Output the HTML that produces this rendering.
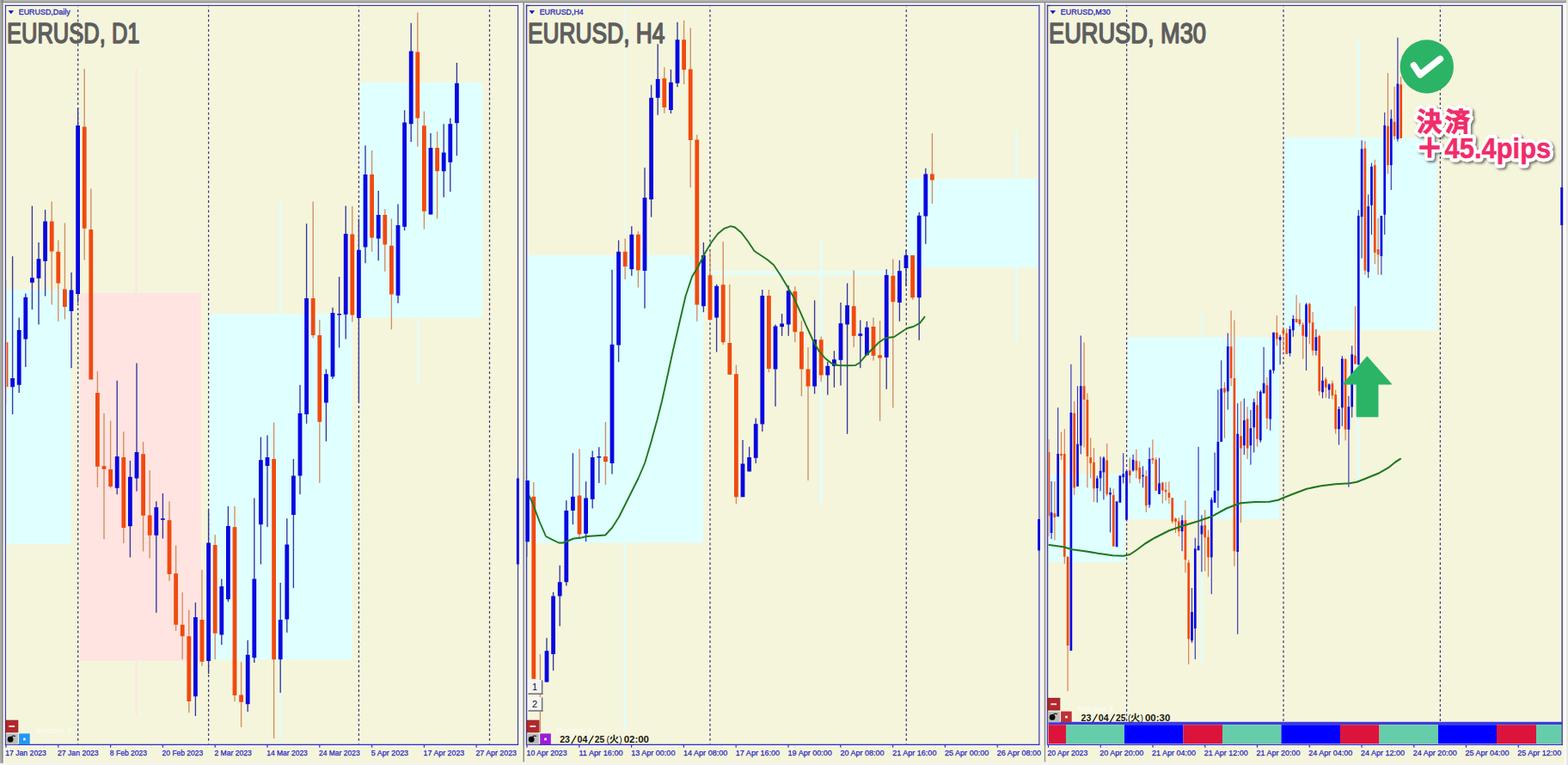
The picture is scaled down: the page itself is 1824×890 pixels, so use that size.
<!DOCTYPE html>
<html><head><meta charset="utf-8"><title>EURUSD</title>
<style>
html,body{margin:0;padding:0;background:#f5f5dc;overflow:hidden}
svg{display:block;font-family:"Liberation Sans",sans-serif}
</style></head><body>
<svg width="1824" height="890" viewBox="0 0 1824 890">
<rect x="0" y="0" width="1824" height="890" fill="#f5f5dc" />
<rect x="7.2" y="337" width="75.3" height="296.2" fill="#e0ffff" />
<rect x="93.2" y="340.8" width="140.6" height="427.7" fill="#ffe4e1" />
<rect x="157.3" y="80" width="2.5" height="260.8" fill="#fbe9df" />
<rect x="157.3" y="768.5" width="2.5" height="64" fill="#fbe9df" />
<rect x="243.8" y="365.2" width="165.7" height="402.4" fill="#e0ffff" />
<rect x="325.2" y="234.5" width="2.5" height="130.7" fill="#e0ffff" />
<rect x="325.2" y="767.6" width="2.5" height="91.9" fill="#e3fdf8" />
<rect x="419.2" y="96.2" width="142" height="273.3" fill="#e0ffff" />
<rect x="484.8" y="369.5" width="2.8" height="77.5" fill="#e6fdf6" />
<rect x="613.2" y="297" width="205" height="334.5" fill="#e0ffff" />
<rect x="725.3" y="7.2" width="2.9" height="289.8" fill="#ecfaec" />
<rect x="725.3" y="631.5" width="2.9" height="219.5" fill="#e3fdf8" />
<rect x="828" y="315" width="225.5" height="5.2" fill="#e6fdf6" />
<rect x="953.6" y="280.8" width="3" height="34.2" fill="#e3fdf8" />
<rect x="953.6" y="320.2" width="3" height="267.3" fill="#e3fdf8" />
<rect x="1055.5" y="208" width="152.1" height="103.2" fill="#e0ffff" />
<rect x="1181" y="152.5" width="3" height="55.5" fill="#e3fdf8" />
<rect x="1181" y="311.2" width="3" height="85.8" fill="#e3fdf8" />
<rect x="1219.2" y="551.2" width="88.8" height="102.5" fill="#e0ffff" />
<rect x="1311.7" y="392.2" width="176.3" height="211.8" fill="#e0ffff" />
<rect x="1396.3" y="360" width="3.5" height="32.2" fill="#ecf9ea" />
<rect x="1396.3" y="604" width="3.5" height="169" fill="#e6fbf2" />
<rect x="1494" y="160" width="177.6" height="224" fill="#e0ffff" />
<rect x="1578.4" y="45" width="3.2" height="115" fill="#e3fdf8" />
<rect x="1578.4" y="384" width="3.2" height="176" fill="#e3fdf8" />
<line x1="90.7" y1="5.5" x2="90.7" y2="865.5" stroke="#34347c" stroke-width="1.25" stroke-dasharray="2.8 2.89"/>
<line x1="242.6" y1="5.5" x2="242.6" y2="865.5" stroke="#34347c" stroke-width="1.25" stroke-dasharray="2.8 2.89"/>
<line x1="417.4" y1="5.5" x2="417.4" y2="865.5" stroke="#34347c" stroke-width="1.25" stroke-dasharray="2.8 2.89"/>
<line x1="569.5" y1="5.5" x2="569.5" y2="865.5" stroke="#34347c" stroke-width="1.25" stroke-dasharray="2.8 2.89"/>
<line x1="826" y1="5.5" x2="826" y2="865.5" stroke="#34347c" stroke-width="1.25" stroke-dasharray="2.8 2.89"/>
<line x1="1054.3" y1="5.5" x2="1054.3" y2="865.5" stroke="#34347c" stroke-width="1.25" stroke-dasharray="2.8 2.89"/>
<line x1="1310.6" y1="5.5" x2="1310.6" y2="840" stroke="#34347c" stroke-width="1.25" stroke-dasharray="2.8 2.89"/>
<line x1="1493" y1="5.5" x2="1493" y2="840" stroke="#34347c" stroke-width="1.25" stroke-dasharray="2.8 2.89"/>
<line x1="1675.4" y1="5.5" x2="1675.4" y2="840" stroke="#34347c" stroke-width="1.25" stroke-dasharray="2.8 2.89"/>
<rect x="6.325" y="325.8" width="1.35" height="143.2" fill="#cf8e62" />
<rect x="4.6" y="398.2" width="4.8" height="51.8" fill="#f04a10" />
<rect x="13.925" y="298.2" width="1.35" height="183.8" fill="#36369c" />
<rect x="12.2" y="440" width="4.8" height="10.2" fill="#0808e0" />
<rect x="21.525" y="369.5" width="1.35" height="87.5" fill="#36369c" />
<rect x="19.8" y="384" width="4.8" height="63.8" fill="#0808e0" />
<rect x="29.125" y="341.5" width="1.35" height="85.5" fill="#36369c" />
<rect x="27.4" y="345.8" width="4.8" height="48.7" fill="#0808e0" />
<rect x="36.725" y="239.5" width="1.35" height="120.7" fill="#36369c" />
<rect x="35" y="323.2" width="4.8" height="5.6" fill="#0808e0" />
<rect x="44.325" y="282" width="1.35" height="95.5" fill="#36369c" />
<rect x="42.6" y="301.2" width="4.8" height="22.6" fill="#0808e0" />
<rect x="51.925" y="244" width="1.35" height="100.5" fill="#36369c" />
<rect x="50.2" y="257.5" width="4.8" height="46.3" fill="#0808e0" />
<rect x="59.525" y="234.5" width="1.35" height="120" fill="#cf8e62" />
<rect x="57.8" y="257.5" width="4.8" height="35" fill="#f04a10" />
<rect x="67.125" y="279.5" width="1.35" height="94.3" fill="#cf8e62" />
<rect x="65.4" y="292.8" width="4.8" height="36.7" fill="#f04a10" />
<rect x="74.725" y="259.5" width="1.35" height="112" fill="#cf8e62" />
<rect x="73" y="336.5" width="4.8" height="20.5" fill="#f04a10" />
<rect x="82.325" y="317" width="1.35" height="111.2" fill="#36369c" />
<rect x="80.6" y="337.5" width="4.8" height="24.5" fill="#0808e0" />
<rect x="89.925" y="126" width="1.35" height="226" fill="#36369c" />
<rect x="88.2" y="146" width="4.8" height="196" fill="#0808e0" />
<rect x="97.525" y="80" width="1.35" height="222.5" fill="#cf8e62" />
<rect x="95.8" y="147.5" width="4.8" height="118.3" fill="#f04a10" />
<rect x="105.125" y="219.5" width="1.35" height="222" fill="#cf8e62" />
<rect x="103.4" y="267" width="4.8" height="174.5" fill="#f04a10" />
<rect x="112.725" y="432" width="1.35" height="135" fill="#cf8e62" />
<rect x="111" y="457" width="4.8" height="85.8" fill="#f04a10" />
<rect x="120.325" y="480.8" width="1.35" height="146.4" fill="#cf8e62" />
<rect x="118.6" y="542.2" width="4.8" height="3.6" fill="#f04a10" />
<rect x="127.925" y="489.5" width="1.35" height="78.3" fill="#cf8e62" />
<rect x="126.2" y="546" width="4.8" height="20" fill="#f04a10" />
<rect x="135.525" y="442.8" width="1.35" height="132.4" fill="#36369c" />
<rect x="133.8" y="531" width="4.8" height="36.8" fill="#0808e0" />
<rect x="143.125" y="502" width="1.35" height="130" fill="#cf8e62" />
<rect x="141.4" y="532" width="4.8" height="82" fill="#f04a10" />
<rect x="150.725" y="536" width="1.35" height="112.5" fill="#36369c" />
<rect x="149" y="554.8" width="4.8" height="57.4" fill="#0808e0" />
<rect x="158.325" y="422.5" width="1.35" height="149" fill="#36369c" />
<rect x="156.6" y="526" width="4.8" height="30.5" fill="#0808e0" />
<rect x="165.925" y="514" width="1.35" height="127.5" fill="#cf8e62" />
<rect x="164.2" y="528.2" width="4.8" height="71.6" fill="#f04a10" />
<rect x="173.525" y="547.2" width="1.35" height="102.3" fill="#cf8e62" />
<rect x="171.8" y="599.5" width="4.8" height="23.3" fill="#f04a10" />
<rect x="181.125" y="583.2" width="1.35" height="129.6" fill="#36369c" />
<rect x="179.4" y="590.2" width="4.8" height="32.6" fill="#0808e0" />
<rect x="188.725" y="574" width="1.35" height="52.5" fill="#36369c" />
<rect x="187" y="603.2" width="4.8" height="1.6" fill="#0808e0" />
<rect x="196.325" y="583.5" width="1.35" height="92.5" fill="#cf8e62" />
<rect x="194.6" y="605.2" width="4.8" height="62.8" fill="#f04a10" />
<rect x="203.925" y="634.5" width="1.35" height="99.5" fill="#cf8e62" />
<rect x="202.2" y="667.2" width="4.8" height="59.6" fill="#f04a10" />
<rect x="211.525" y="689.2" width="1.35" height="78" fill="#cf8e62" />
<rect x="209.8" y="726.8" width="4.8" height="13.4" fill="#f04a10" />
<rect x="219.125" y="709.8" width="1.35" height="119.4" fill="#cf8e62" />
<rect x="217.4" y="740.2" width="4.8" height="75.8" fill="#f04a10" />
<rect x="226.725" y="701" width="1.35" height="132" fill="#36369c" />
<rect x="225" y="718" width="4.8" height="92.2" fill="#0808e0" />
<rect x="234.325" y="662.8" width="1.35" height="112" fill="#cf8e62" />
<rect x="232.6" y="721" width="4.8" height="48.8" fill="#f04a10" />
<rect x="241.925" y="593.2" width="1.35" height="190.8" fill="#36369c" />
<rect x="240.2" y="631.5" width="4.8" height="137.5" fill="#0808e0" />
<rect x="249.525" y="622.2" width="1.35" height="145" fill="#cf8e62" />
<rect x="247.8" y="634" width="4.8" height="102.8" fill="#f04a10" />
<rect x="257.125" y="673.5" width="1.35" height="76.7" fill="#36369c" />
<rect x="255.4" y="682.2" width="4.8" height="56.3" fill="#0808e0" />
<rect x="264.725" y="589" width="1.35" height="111.2" fill="#36369c" />
<rect x="263" y="612" width="4.8" height="85.2" fill="#0808e0" />
<rect x="272.325" y="589" width="1.35" height="227" fill="#cf8e62" />
<rect x="270.6" y="613.2" width="4.8" height="195.8" fill="#f04a10" />
<rect x="279.925" y="770.2" width="1.35" height="75.8" fill="#cf8e62" />
<rect x="278.2" y="808.5" width="4.8" height="8.3" fill="#f04a10" />
<rect x="287.525" y="744.8" width="1.35" height="83.2" fill="#36369c" />
<rect x="285.8" y="761.8" width="4.8" height="57.4" fill="#0808e0" />
<rect x="295.125" y="579.5" width="1.35" height="191.5" fill="#36369c" />
<rect x="293.4" y="673.5" width="4.8" height="91.7" fill="#0808e0" />
<rect x="302.725" y="508.5" width="1.35" height="148" fill="#36369c" />
<rect x="301" y="535.2" width="4.8" height="75" fill="#0808e0" />
<rect x="310.325" y="506.5" width="1.35" height="106.7" fill="#36369c" />
<rect x="308.6" y="532" width="4.8" height="10" fill="#0808e0" />
<rect x="317.925" y="491.5" width="1.35" height="367.7" fill="#cf8e62" />
<rect x="316.2" y="534" width="4.8" height="233.2" fill="#f04a10" />
<rect x="325.525" y="678" width="1.35" height="128" fill="#36369c" />
<rect x="323.8" y="721" width="4.8" height="46.2" fill="#0808e0" />
<rect x="333.125" y="603.2" width="1.35" height="132.8" fill="#36369c" />
<rect x="331.4" y="633.5" width="4.8" height="87" fill="#0808e0" />
<rect x="340.725" y="534" width="1.35" height="150.2" fill="#36369c" />
<rect x="339" y="553.5" width="4.8" height="45.5" fill="#0808e0" />
<rect x="348.325" y="447.8" width="1.35" height="127.4" fill="#36369c" />
<rect x="346.6" y="480.8" width="4.8" height="72.7" fill="#0808e0" />
<rect x="355.925" y="260.2" width="1.35" height="232.6" fill="#36369c" />
<rect x="354.2" y="347" width="4.8" height="135" fill="#0808e0" />
<rect x="363.525" y="234.5" width="1.35" height="158.7" fill="#cf8e62" />
<rect x="361.8" y="347" width="4.8" height="43" fill="#f04a10" />
<rect x="371.125" y="372" width="1.35" height="190" fill="#cf8e62" />
<rect x="369.4" y="390" width="4.8" height="100.8" fill="#f04a10" />
<rect x="378.725" y="429.5" width="1.35" height="84" fill="#36369c" />
<rect x="377" y="435.2" width="4.8" height="33.3" fill="#0808e0" />
<rect x="386.325" y="357.8" width="1.35" height="83" fill="#36369c" />
<rect x="384.6" y="364" width="4.8" height="74.2" fill="#0808e0" />
<rect x="393.925" y="322" width="1.35" height="82.5" fill="#36369c" />
<rect x="392.2" y="365" width="4.8" height="1.5" fill="#0808e0" />
<rect x="401.525" y="239.5" width="1.35" height="155" fill="#36369c" />
<rect x="399.8" y="272" width="4.8" height="93.8" fill="#0808e0" />
<rect x="409.125" y="240" width="1.35" height="134.5" fill="#cf8e62" />
<rect x="407.4" y="272.5" width="4.8" height="94" fill="#f04a10" />
<rect x="416.725" y="254.5" width="1.35" height="213.5" fill="#36369c" />
<rect x="415" y="290.8" width="4.8" height="79.2" fill="#0808e0" />
<rect x="424.325" y="169.2" width="1.35" height="137" fill="#36369c" />
<rect x="422.6" y="203" width="4.8" height="84.5" fill="#0808e0" />
<rect x="431.925" y="175" width="1.35" height="117.8" fill="#cf8e62" />
<rect x="430.2" y="203" width="4.8" height="73.5" fill="#f04a10" />
<rect x="439.525" y="222" width="1.35" height="81.2" fill="#36369c" />
<rect x="437.8" y="250" width="4.8" height="27.5" fill="#0808e0" />
<rect x="447.125" y="243.2" width="1.35" height="72.6" fill="#cf8e62" />
<rect x="445.4" y="250" width="4.8" height="34.5" fill="#f04a10" />
<rect x="454.725" y="254.5" width="1.35" height="128.7" fill="#cf8e62" />
<rect x="453" y="285.8" width="4.8" height="56.7" fill="#f04a10" />
<rect x="462.325" y="237.5" width="1.35" height="115.3" fill="#36369c" />
<rect x="460.6" y="262" width="4.8" height="81.8" fill="#0808e0" />
<rect x="469.925" y="128.2" width="1.35" height="140" fill="#36369c" />
<rect x="468.2" y="142.5" width="4.8" height="121.3" fill="#0808e0" />
<rect x="477.525" y="26.8" width="1.35" height="138.2" fill="#36369c" />
<rect x="475.8" y="59.5" width="4.8" height="84.7" fill="#0808e0" />
<rect x="485.125" y="14.5" width="1.35" height="156.3" fill="#cf8e62" />
<rect x="483.4" y="60.5" width="4.8" height="77" fill="#f04a10" />
<rect x="492.725" y="129.5" width="1.35" height="137" fill="#cf8e62" />
<rect x="491" y="146.2" width="4.8" height="99.6" fill="#f04a10" />
<rect x="500.325" y="155" width="1.35" height="94.5" fill="#36369c" />
<rect x="498.6" y="172" width="4.8" height="77.5" fill="#0808e0" />
<rect x="507.925" y="153" width="1.35" height="101.5" fill="#cf8e62" />
<rect x="506.2" y="172" width="4.8" height="27.2" fill="#f04a10" />
<rect x="515.525" y="144.2" width="1.35" height="85.3" fill="#36369c" />
<rect x="513.8" y="177.5" width="4.8" height="21.7" fill="#0808e0" />
<rect x="523.125" y="137.5" width="1.35" height="85.5" fill="#36369c" />
<rect x="521.4" y="144.2" width="4.8" height="44.6" fill="#0808e0" />
<rect x="530.725" y="73" width="1.35" height="108.2" fill="#36369c" />
<rect x="529" y="96.8" width="4.8" height="46.4" fill="#0808e0" />
<rect x="612.525" y="559" width="1.35" height="88.8" fill="#36369c" />
<rect x="610.8" y="559" width="4.8" height="71.2" fill="#0808e0" />
<rect x="620.125" y="561" width="1.35" height="228.8" fill="#cf8e62" />
<rect x="618.4" y="577.8" width="4.8" height="212" fill="#f04a10" />
<rect x="627.725" y="761" width="1.35" height="91" fill="#cf8e62" />
<rect x="635.325" y="742.2" width="1.35" height="51.3" fill="#36369c" />
<rect x="633.6" y="757.2" width="4.8" height="36.3" fill="#0808e0" />
<rect x="642.925" y="689" width="1.35" height="91.2" fill="#36369c" />
<rect x="641.2" y="693.5" width="4.8" height="67.5" fill="#0808e0" />
<rect x="650.525" y="657.8" width="1.35" height="70.7" fill="#36369c" />
<rect x="648.8" y="677.2" width="4.8" height="16.3" fill="#0808e0" />
<rect x="658.125" y="582.2" width="1.35" height="99.3" fill="#36369c" />
<rect x="656.4" y="594" width="4.8" height="83.2" fill="#0808e0" />
<rect x="665.725" y="527.2" width="1.35" height="83" fill="#36369c" />
<rect x="664" y="577.8" width="4.8" height="16.2" fill="#0808e0" />
<rect x="673.325" y="522.2" width="1.35" height="103" fill="#cf8e62" />
<rect x="671.6" y="576.5" width="4.8" height="45" fill="#f04a10" />
<rect x="680.925" y="560.2" width="1.35" height="70" fill="#36369c" />
<rect x="679.2" y="579.5" width="4.8" height="41.3" fill="#0808e0" />
<rect x="688.525" y="524.5" width="1.35" height="67" fill="#36369c" />
<rect x="686.8" y="532" width="4.8" height="48.8" fill="#0808e0" />
<rect x="696.125" y="520.2" width="1.35" height="41.8" fill="#36369c" />
<rect x="694.4" y="531" width="4.8" height="1.5" fill="#0808e0" />
<rect x="703.725" y="491" width="1.35" height="73" fill="#cf8e62" />
<rect x="702" y="531" width="4.8" height="6.2" fill="#f04a10" />
<rect x="711.325" y="313.8" width="1.35" height="237.7" fill="#36369c" />
<rect x="709.6" y="400.8" width="4.8" height="138.2" fill="#0808e0" />
<rect x="718.925" y="279.5" width="1.35" height="141.7" fill="#36369c" />
<rect x="717.2" y="292.8" width="4.8" height="108.7" fill="#0808e0" />
<rect x="726.525" y="277.5" width="1.35" height="47.5" fill="#cf8e62" />
<rect x="724.8" y="292.8" width="4.8" height="17.2" fill="#f04a10" />
<rect x="734.125" y="263.2" width="1.35" height="57.6" fill="#36369c" />
<rect x="732.4" y="272.8" width="4.8" height="40.4" fill="#0808e0" />
<rect x="741.725" y="269" width="1.35" height="65.5" fill="#cf8e62" />
<rect x="740" y="272.8" width="4.8" height="41.7" fill="#f04a10" />
<rect x="749.325" y="195" width="1.35" height="163.8" fill="#36369c" />
<rect x="747.6" y="230" width="4.8" height="85" fill="#0808e0" />
<rect x="756.925" y="98.8" width="1.35" height="153.7" fill="#36369c" />
<rect x="755.2" y="113.8" width="4.8" height="118.2" fill="#0808e0" />
<rect x="764.525" y="51.2" width="1.35" height="82.6" fill="#36369c" />
<rect x="762.8" y="92" width="4.8" height="21.8" fill="#0808e0" />
<rect x="772.125" y="78.2" width="1.35" height="53.6" fill="#cf8e62" />
<rect x="770.4" y="91.2" width="4.8" height="33.8" fill="#f04a10" />
<rect x="779.725" y="80.8" width="1.35" height="51.2" fill="#36369c" />
<rect x="778" y="95.8" width="4.8" height="32.2" fill="#0808e0" />
<rect x="787.325" y="25.8" width="1.35" height="75.4" fill="#36369c" />
<rect x="785.6" y="46.2" width="4.8" height="50.6" fill="#0808e0" />
<rect x="794.925" y="23.8" width="1.35" height="74.4" fill="#cf8e62" />
<rect x="793.2" y="46.2" width="4.8" height="35" fill="#f04a10" />
<rect x="802.525" y="32.5" width="1.35" height="185.5" fill="#cf8e62" />
<rect x="800.8" y="80.5" width="4.8" height="82.5" fill="#f04a10" />
<rect x="810.125" y="156.8" width="1.35" height="217" fill="#cf8e62" />
<rect x="808.4" y="162.5" width="4.8" height="192" fill="#f04a10" />
<rect x="817.725" y="282" width="1.35" height="81.2" fill="#36369c" />
<rect x="816" y="297" width="4.8" height="59.2" fill="#0808e0" />
<rect x="825.325" y="293.2" width="1.35" height="78.8" fill="#cf8e62" />
<rect x="823.6" y="320.2" width="4.8" height="51.8" fill="#f04a10" />
<rect x="832.925" y="330.8" width="1.35" height="78.7" fill="#36369c" />
<rect x="831.2" y="332.8" width="4.8" height="36.7" fill="#0808e0" />
<rect x="840.525" y="281.2" width="1.35" height="120" fill="#cf8e62" />
<rect x="838.8" y="331.2" width="4.8" height="67" fill="#f04a10" />
<rect x="848.125" y="330.8" width="1.35" height="105" fill="#cf8e62" />
<rect x="846.4" y="399" width="4.8" height="36.8" fill="#f04a10" />
<rect x="855.725" y="424.5" width="1.35" height="162" fill="#cf8e62" />
<rect x="854" y="435.2" width="4.8" height="143" fill="#f04a10" />
<rect x="863.325" y="512" width="1.35" height="66.2" fill="#36369c" />
<rect x="861.6" y="539.5" width="4.8" height="38.7" fill="#0808e0" />
<rect x="870.925" y="519.8" width="1.35" height="28.7" fill="#36369c" />
<rect x="869.2" y="532" width="4.8" height="16.5" fill="#0808e0" />
<rect x="878.525" y="486.5" width="1.35" height="52.5" fill="#36369c" />
<rect x="876.8" y="493.2" width="4.8" height="39.6" fill="#0808e0" />
<rect x="886.125" y="337" width="1.35" height="165" fill="#36369c" />
<rect x="884.4" y="344" width="4.8" height="149.5" fill="#0808e0" />
<rect x="893.725" y="337" width="1.35" height="96.2" fill="#cf8e62" />
<rect x="892" y="344" width="4.8" height="85" fill="#f04a10" />
<rect x="901.325" y="377.5" width="1.35" height="95.3" fill="#36369c" />
<rect x="899.6" y="379.5" width="4.8" height="50" fill="#0808e0" />
<rect x="908.925" y="365" width="1.35" height="25.8" fill="#36369c" />
<rect x="907.2" y="376.5" width="4.8" height="3.7" fill="#0808e0" />
<rect x="916.525" y="332" width="1.35" height="58.8" fill="#36369c" />
<rect x="914.8" y="338.2" width="4.8" height="39.3" fill="#0808e0" />
<rect x="924.125" y="333.2" width="1.35" height="65" fill="#cf8e62" />
<rect x="922.4" y="339" width="4.8" height="47.2" fill="#f04a10" />
<rect x="931.725" y="373.2" width="1.35" height="87.8" fill="#cf8e62" />
<rect x="930" y="385.8" width="4.8" height="43.7" fill="#f04a10" />
<rect x="939.325" y="404" width="1.35" height="155" fill="#cf8e62" />
<rect x="937.6" y="429.5" width="4.8" height="20" fill="#f04a10" />
<rect x="946.925" y="349.5" width="1.35" height="108.7" fill="#36369c" />
<rect x="945.2" y="395" width="4.8" height="54.5" fill="#0808e0" />
<rect x="954.525" y="391.5" width="1.35" height="52.5" fill="#cf8e62" />
<rect x="952.8" y="395.2" width="4.8" height="41.3" fill="#f04a10" />
<rect x="962.125" y="420.8" width="1.35" height="38.7" fill="#36369c" />
<rect x="960.4" y="425.8" width="4.8" height="10.7" fill="#0808e0" />
<rect x="969.725" y="408.2" width="1.35" height="42.6" fill="#36369c" />
<rect x="968" y="418.2" width="4.8" height="7.6" fill="#0808e0" />
<rect x="977.325" y="352" width="1.35" height="96.5" fill="#36369c" />
<rect x="975.6" y="376.2" width="4.8" height="42.6" fill="#0808e0" />
<rect x="984.925" y="329.5" width="1.35" height="175.3" fill="#36369c" />
<rect x="983.2" y="355.2" width="4.8" height="22.3" fill="#0808e0" />
<rect x="992.525" y="314.5" width="1.35" height="89.5" fill="#cf8e62" />
<rect x="990.8" y="356.2" width="4.8" height="34.6" fill="#f04a10" />
<rect x="1000.12" y="372.5" width="1.35" height="55.7" fill="#36369c" />
<rect x="998.4" y="388.2" width="4.8" height="2.6" fill="#0808e0" />
<rect x="1007.73" y="373.8" width="1.35" height="39.4" fill="#36369c" />
<rect x="1006" y="380.8" width="4.8" height="32.4" fill="#0808e0" />
<rect x="1015.33" y="369.5" width="1.35" height="50" fill="#cf8e62" />
<rect x="1013.6" y="380" width="4.8" height="33.8" fill="#f04a10" />
<rect x="1022.93" y="373.2" width="1.35" height="116.6" fill="#cf8e62" />
<rect x="1021.2" y="413.2" width="4.8" height="3.3" fill="#f04a10" />
<rect x="1030.53" y="313.2" width="1.35" height="139.6" fill="#36369c" />
<rect x="1028.8" y="320" width="4.8" height="95.8" fill="#0808e0" />
<rect x="1038.12" y="301.5" width="1.35" height="173" fill="#cf8e62" />
<rect x="1036.4" y="320.8" width="4.8" height="30.4" fill="#f04a10" />
<rect x="1045.73" y="302.8" width="1.35" height="71" fill="#36369c" />
<rect x="1044" y="315.2" width="4.8" height="36.8" fill="#0808e0" />
<rect x="1053.33" y="290.8" width="1.35" height="42.4" fill="#36369c" />
<rect x="1051.6" y="297" width="4.8" height="15" fill="#0808e0" />
<rect x="1060.92" y="297" width="1.35" height="51.8" fill="#cf8e62" />
<rect x="1059.2" y="297" width="4.8" height="49.2" fill="#f04a10" />
<rect x="1068.53" y="247" width="1.35" height="148.8" fill="#36369c" />
<rect x="1066.8" y="250.8" width="4.8" height="95.4" fill="#0808e0" />
<rect x="1076.12" y="195.8" width="1.35" height="88" fill="#36369c" />
<rect x="1074.4" y="202.5" width="4.8" height="49" fill="#0808e0" />
<rect x="1083.73" y="155" width="1.35" height="82" fill="#cf8e62" />
<rect x="1082" y="202.5" width="4.8" height="7" fill="#f04a10" />
<polyline fill="none" stroke="#1f771f" stroke-width="1.9" stroke-linejoin="round" points="613.7,572.8 620,586.5 627.5,606.5 635,624 642.5,627.8 650,631.5 655,631.5 660,629.5 667.5,626.5 675,625.8 682.5,624 690,623.5 697.5,623 704.2,622.5 712,614 720,601.5 727.5,586.5 735,571.5 742.5,556.5 750,539 757.5,514 765,486.5 770,466.5 775,444 782.5,409.5 790,377 797.5,344.5 805,322 812.5,309.5 820,294.5 827.5,282 835,272 842.5,265.8 850,263.2 855,264.5 862.5,270.8 870,280.8 877.5,292 885,297 892.5,302 900,308.2 907.5,319.5 915,332 922.5,344.5 930,360.8 937.5,378.2 945,394.5 952.5,408.2 960,417 967.5,422.8 975,425 985,425.2 995,425 1000,422 1007.5,413.2 1015,405.8 1022.5,398.2 1030,393.2 1040,392 1047.5,387 1055,382 1062.5,380 1070,375.8 1076,368.2"/>
<rect x="1219.42" y="511" width="1.15" height="113" fill="#dc7c4c" />
<rect x="1218.65" y="526" width="2.7" height="74" fill="#f04a10" />
<rect x="1222.52" y="560" width="1.15" height="67" fill="#3232b4" />
<rect x="1221.75" y="596.3" width="2.7" height="23.7" fill="#0808e0" />
<rect x="1226.32" y="560" width="1.15" height="68.5" fill="#dc7c4c" />
<rect x="1225.55" y="597.4" width="2.7" height="4.4" fill="#f04a10" />
<rect x="1230.12" y="474.2" width="1.15" height="126.8" fill="#3232b4" />
<rect x="1229.35" y="528" width="2.7" height="73" fill="#0808e0" />
<rect x="1233.92" y="502.4" width="1.15" height="32.6" fill="#dc7c4c" />
<rect x="1233.15" y="528" width="2.7" height="2" fill="#f04a10" />
<rect x="1237.72" y="499" width="1.15" height="156.8" fill="#dc7c4c" />
<rect x="1236.95" y="528" width="2.7" height="119.6" fill="#f04a10" />
<rect x="1241.52" y="647.6" width="1.15" height="156.6" fill="#dc7c4c" />
<rect x="1240.75" y="647.6" width="2.7" height="103.4" fill="#f04a10" />
<rect x="1245.32" y="423.8" width="1.15" height="333.2" fill="#3232b4" />
<rect x="1244.55" y="480" width="2.7" height="277" fill="#0808e0" />
<rect x="1249.12" y="466.7" width="1.15" height="109.3" fill="#dc7c4c" />
<rect x="1248.35" y="480.8" width="2.7" height="86.6" fill="#f04a10" />
<rect x="1252.92" y="449.2" width="1.15" height="116.8" fill="#3232b4" />
<rect x="1252.15" y="516.7" width="2.7" height="49.3" fill="#0808e0" />
<rect x="1256.72" y="390.5" width="1.15" height="137.9" fill="#3232b4" />
<rect x="1255.95" y="449.2" width="2.7" height="69.2" fill="#0808e0" />
<rect x="1260.52" y="398.3" width="1.15" height="122.1" fill="#dc7c4c" />
<rect x="1259.75" y="449.2" width="2.7" height="15.8" fill="#f04a10" />
<rect x="1264.32" y="457.5" width="1.15" height="109.9" fill="#dc7c4c" />
<rect x="1263.55" y="465" width="2.7" height="66" fill="#f04a10" />
<rect x="1268.12" y="509.3" width="1.15" height="47.1" fill="#dc7c4c" />
<rect x="1267.35" y="532.2" width="2.7" height="6.6" fill="#f04a10" />
<rect x="1271.92" y="521" width="1.15" height="63" fill="#dc7c4c" />
<rect x="1271.15" y="537.8" width="2.7" height="30.6" fill="#f04a10" />
<rect x="1275.72" y="553.4" width="1.15" height="31.2" fill="#3232b4" />
<rect x="1274.95" y="556.6" width="2.7" height="11.4" fill="#0808e0" />
<rect x="1279.52" y="531.3" width="1.15" height="40.1" fill="#3232b4" />
<rect x="1278.75" y="547.8" width="2.7" height="8.5" fill="#0808e0" />
<rect x="1283.32" y="531" width="1.15" height="50.4" fill="#3232b4" />
<rect x="1282.55" y="532.6" width="2.7" height="16.8" fill="#0808e0" />
<rect x="1287.12" y="516" width="1.15" height="61.4" fill="#dc7c4c" />
<rect x="1286.35" y="535.6" width="2.7" height="39.3" fill="#f04a10" />
<rect x="1290.92" y="567.4" width="1.15" height="52.1" fill="#3232b4" />
<rect x="1290.15" y="573.1" width="2.7" height="2.3" fill="#0808e0" />
<rect x="1294.72" y="568.7" width="1.15" height="67" fill="#dc7c4c" />
<rect x="1293.95" y="576" width="2.7" height="59.7" fill="#f04a10" />
<rect x="1298.52" y="583.4" width="1.15" height="52.8" fill="#3232b4" />
<rect x="1297.75" y="583.4" width="2.7" height="52.8" fill="#0808e0" />
<rect x="1302.32" y="553.4" width="1.15" height="31.3" fill="#3232b4" />
<rect x="1301.55" y="553.4" width="2.7" height="31.3" fill="#0808e0" />
<rect x="1306.12" y="527.2" width="1.15" height="35.2" fill="#3232b4" />
<rect x="1305.35" y="551.3" width="2.7" height="3.9" fill="#0808e0" />
<rect x="1309.92" y="548" width="1.15" height="58.5" fill="#3232b4" />
<rect x="1309.15" y="548.1" width="2.7" height="56.6" fill="#0808e0" />
<rect x="1313.72" y="532.4" width="1.15" height="30" fill="#dc7c4c" />
<rect x="1312.95" y="547.4" width="2.7" height="5.7" fill="#f04a10" />
<rect x="1317.52" y="528.8" width="1.15" height="19.9" fill="#3232b4" />
<rect x="1316.75" y="534.9" width="2.7" height="12.5" fill="#0808e0" />
<rect x="1321.32" y="522.6" width="1.15" height="33.8" fill="#dc7c4c" />
<rect x="1320.55" y="536.1" width="2.7" height="11.3" fill="#f04a10" />
<rect x="1325.12" y="536.5" width="1.15" height="25.8" fill="#dc7c4c" />
<rect x="1324.35" y="544" width="2.7" height="13.3" fill="#f04a10" />
<rect x="1328.92" y="542.3" width="1.15" height="25" fill="#3232b4" />
<rect x="1328.15" y="552.7" width="2.7" height="1.6" fill="#0808e0" />
<rect x="1332.72" y="547.3" width="1.15" height="48.7" fill="#dc7c4c" />
<rect x="1331.95" y="554" width="2.7" height="34.2" fill="#f04a10" />
<rect x="1336.52" y="520.7" width="1.15" height="70" fill="#3232b4" />
<rect x="1335.75" y="534" width="2.7" height="53.3" fill="#0808e0" />
<rect x="1340.32" y="511.5" width="1.15" height="28.3" fill="#dc7c4c" />
<rect x="1339.55" y="533.2" width="2.7" height="2.1" fill="#f04a10" />
<rect x="1344.12" y="532.3" width="1.15" height="39.2" fill="#dc7c4c" />
<rect x="1343.35" y="534.8" width="2.7" height="35.9" fill="#f04a10" />
<rect x="1347.92" y="532.7" width="1.15" height="42.1" fill="#3232b4" />
<rect x="1347.15" y="562.3" width="2.7" height="12.5" fill="#0808e0" />
<rect x="1351.72" y="560.7" width="1.15" height="25" fill="#dc7c4c" />
<rect x="1350.95" y="561.5" width="2.7" height="9.2" fill="#f04a10" />
<rect x="1355.52" y="560.7" width="1.15" height="21.6" fill="#dc7c4c" />
<rect x="1354.75" y="569.8" width="2.7" height="2.5" fill="#f04a10" />
<rect x="1359.32" y="560.3" width="1.15" height="25.7" fill="#dc7c4c" />
<rect x="1358.55" y="573.2" width="2.7" height="5.8" fill="#f04a10" />
<rect x="1363.12" y="579" width="1.15" height="30" fill="#dc7c4c" />
<rect x="1362.35" y="579.3" width="2.7" height="27.2" fill="#f04a10" />
<rect x="1366.92" y="602.3" width="1.15" height="17.5" fill="#dc7c4c" />
<rect x="1366.15" y="603.2" width="2.7" height="3.8" fill="#f04a10" />
<rect x="1370.72" y="602.3" width="1.15" height="21.7" fill="#dc7c4c" />
<rect x="1369.95" y="606.5" width="2.7" height="11.7" fill="#f04a10" />
<rect x="1374.52" y="599.3" width="1.15" height="41.9" fill="#3232b4" />
<rect x="1373.75" y="605.3" width="2.7" height="12.9" fill="#0808e0" />
<rect x="1378.32" y="582.3" width="1.15" height="83.9" fill="#dc7c4c" />
<rect x="1377.55" y="605.3" width="2.7" height="45.9" fill="#f04a10" />
<rect x="1382.12" y="651.2" width="1.15" height="121.8" fill="#dc7c4c" />
<rect x="1381.35" y="654.5" width="2.7" height="88.8" fill="#f04a10" />
<rect x="1385.92" y="684" width="1.15" height="63.8" fill="#3232b4" />
<rect x="1385.15" y="712" width="2.7" height="33.3" fill="#0808e0" />
<rect x="1389.72" y="625.7" width="1.15" height="141.3" fill="#3232b4" />
<rect x="1388.95" y="638.3" width="2.7" height="92.9" fill="#0808e0" />
<rect x="1393.52" y="519.8" width="1.15" height="120.5" fill="#3232b4" />
<rect x="1392.75" y="635" width="2.7" height="5.3" fill="#0808e0" />
<rect x="1397.32" y="599.3" width="1.15" height="66" fill="#3232b4" />
<rect x="1396.55" y="611.5" width="2.7" height="10" fill="#0808e0" />
<rect x="1401.12" y="593.2" width="1.15" height="71.3" fill="#dc7c4c" />
<rect x="1400.35" y="611" width="2.7" height="14.3" fill="#f04a10" />
<rect x="1404.92" y="616.5" width="1.15" height="54.7" fill="#dc7c4c" />
<rect x="1404.15" y="624.8" width="2.7" height="23.5" fill="#f04a10" />
<rect x="1408.72" y="578.7" width="1.15" height="112.5" fill="#3232b4" />
<rect x="1407.95" y="581.5" width="2.7" height="66.8" fill="#0808e0" />
<rect x="1412.52" y="526.5" width="1.15" height="58.3" fill="#3232b4" />
<rect x="1411.75" y="571" width="2.7" height="13.8" fill="#0808e0" />
<rect x="1416.32" y="453.3" width="1.15" height="137.4" fill="#3232b4" />
<rect x="1415.55" y="514" width="2.7" height="56.7" fill="#0808e0" />
<rect x="1420.12" y="419.2" width="1.15" height="94.8" fill="#3232b4" />
<rect x="1419.35" y="452" width="2.7" height="62" fill="#0808e0" />
<rect x="1423.92" y="444.7" width="1.15" height="65.1" fill="#dc7c4c" />
<rect x="1423.15" y="451.3" width="2.7" height="5.4" fill="#f04a10" />
<rect x="1427.72" y="387.5" width="1.15" height="89.2" fill="#3232b4" />
<rect x="1426.95" y="403" width="2.7" height="52.3" fill="#0808e0" />
<rect x="1431.52" y="361.3" width="1.15" height="87.9" fill="#dc7c4c" />
<rect x="1430.75" y="403.3" width="2.7" height="36.7" fill="#f04a10" />
<rect x="1435.32" y="372.5" width="1.15" height="286.2" fill="#dc7c4c" />
<rect x="1434.55" y="440" width="2.7" height="201.2" fill="#f04a10" />
<rect x="1439.12" y="469.2" width="1.15" height="268.6" fill="#3232b4" />
<rect x="1438.35" y="504.8" width="2.7" height="137.2" fill="#0808e0" />
<rect x="1442.92" y="466.7" width="1.15" height="141.5" fill="#dc7c4c" />
<rect x="1442.15" y="507.3" width="2.7" height="14.2" fill="#f04a10" />
<rect x="1446.72" y="463.7" width="1.15" height="65.3" fill="#3232b4" />
<rect x="1445.95" y="489" width="2.7" height="29.2" fill="#0808e0" />
<rect x="1450.52" y="473.3" width="1.15" height="60.7" fill="#dc7c4c" />
<rect x="1449.75" y="487.3" width="2.7" height="34.2" fill="#f04a10" />
<rect x="1454.32" y="477" width="1.15" height="63.7" fill="#3232b4" />
<rect x="1453.55" y="498.2" width="2.7" height="20" fill="#0808e0" />
<rect x="1458.12" y="463.7" width="1.15" height="62.8" fill="#3232b4" />
<rect x="1457.35" y="468" width="2.7" height="29.3" fill="#0808e0" />
<rect x="1461.92" y="455" width="1.15" height="64.8" fill="#dc7c4c" />
<rect x="1461.15" y="471.3" width="2.7" height="39.4" fill="#f04a10" />
<rect x="1465.72" y="453.8" width="1.15" height="61" fill="#3232b4" />
<rect x="1464.95" y="455.8" width="2.7" height="56.5" fill="#0808e0" />
<rect x="1469.52" y="403.8" width="1.15" height="53.7" fill="#3232b4" />
<rect x="1468.75" y="445.8" width="2.7" height="11.7" fill="#0808e0" />
<rect x="1473.32" y="439.2" width="1.15" height="60" fill="#dc7c4c" />
<rect x="1472.55" y="448.2" width="2.7" height="38.5" fill="#f04a10" />
<rect x="1477.12" y="429.7" width="1.15" height="71.1" fill="#3232b4" />
<rect x="1476.35" y="430.5" width="2.7" height="57" fill="#0808e0" />
<rect x="1480.92" y="386.7" width="1.15" height="47.8" fill="#3232b4" />
<rect x="1480.15" y="386.8" width="2.7" height="44.2" fill="#0808e0" />
<rect x="1484.72" y="367" width="1.15" height="35" fill="#dc7c4c" />
<rect x="1483.95" y="387" width="2.7" height="7.5" fill="#f04a10" />
<rect x="1488.52" y="389.6" width="1.15" height="34.6" fill="#3232b4" />
<rect x="1487.75" y="392" width="2.7" height="3.7" fill="#0808e0" />
<rect x="1492.32" y="381" width="1.15" height="27" fill="#dc7c4c" />
<rect x="1491.55" y="383.6" width="2.7" height="4.4" fill="#f04a10" />
<rect x="1496.12" y="382" width="1.15" height="29.8" fill="#dc7c4c" />
<rect x="1495.35" y="387.6" width="2.7" height="24.2" fill="#f04a10" />
<rect x="1499.92" y="379.2" width="1.15" height="35.4" fill="#3232b4" />
<rect x="1499.15" y="383" width="2.7" height="28" fill="#0808e0" />
<rect x="1503.72" y="366.7" width="1.15" height="25.1" fill="#3232b4" />
<rect x="1502.95" y="371" width="2.7" height="13.3" fill="#0808e0" />
<rect x="1507.52" y="343.2" width="1.15" height="31.9" fill="#dc7c4c" />
<rect x="1506.75" y="371" width="2.7" height="4.1" fill="#f04a10" />
<rect x="1511.32" y="352.4" width="1.15" height="27.1" fill="#dc7c4c" />
<rect x="1510.55" y="371.5" width="2.7" height="5.5" fill="#f04a10" />
<rect x="1515.12" y="375.2" width="1.15" height="42.5" fill="#dc7c4c" />
<rect x="1514.35" y="377.7" width="2.7" height="13" fill="#f04a10" />
<rect x="1518.92" y="352.3" width="1.15" height="78.7" fill="#3232b4" />
<rect x="1518.15" y="354.3" width="2.7" height="37.5" fill="#0808e0" />
<rect x="1522.72" y="352.3" width="1.15" height="47.9" fill="#dc7c4c" />
<rect x="1521.95" y="353.5" width="2.7" height="22.2" fill="#f04a10" />
<rect x="1526.52" y="363" width="1.15" height="50.5" fill="#dc7c4c" />
<rect x="1525.75" y="375.2" width="2.7" height="32.5" fill="#f04a10" />
<rect x="1530.32" y="383" width="1.15" height="30.5" fill="#3232b4" />
<rect x="1529.55" y="392.3" width="2.7" height="15.7" fill="#0808e0" />
<rect x="1534.12" y="389.3" width="1.15" height="70.9" fill="#dc7c4c" />
<rect x="1533.35" y="391" width="2.7" height="64.2" fill="#f04a10" />
<rect x="1537.92" y="426.5" width="1.15" height="37" fill="#3232b4" />
<rect x="1537.15" y="442.7" width="2.7" height="13.6" fill="#0808e0" />
<rect x="1541.72" y="439" width="1.15" height="24" fill="#dc7c4c" />
<rect x="1540.95" y="441.3" width="2.7" height="9.4" fill="#f04a10" />
<rect x="1545.52" y="446" width="1.15" height="18" fill="#3232b4" />
<rect x="1544.75" y="447.3" width="2.7" height="6.2" fill="#0808e0" />
<rect x="1549.32" y="442.7" width="1.15" height="21.6" fill="#dc7c4c" />
<rect x="1548.55" y="446" width="2.7" height="14.2" fill="#f04a10" />
<rect x="1553.12" y="453.5" width="1.15" height="51.2" fill="#dc7c4c" />
<rect x="1552.35" y="459" width="2.7" height="40.2" fill="#f04a10" />
<rect x="1556.92" y="473" width="1.15" height="44.5" fill="#3232b4" />
<rect x="1556.15" y="476" width="2.7" height="23.2" fill="#0808e0" />
<rect x="1560.72" y="414" width="1.15" height="81.8" fill="#3232b4" />
<rect x="1559.95" y="417.3" width="2.7" height="57" fill="#0808e0" />
<rect x="1564.52" y="417.3" width="1.15" height="95.2" fill="#dc7c4c" />
<rect x="1563.75" y="417.7" width="2.7" height="82" fill="#f04a10" />
<rect x="1568.32" y="460.7" width="1.15" height="106" fill="#3232b4" />
<rect x="1567.55" y="473.2" width="2.7" height="26.5" fill="#0808e0" />
<rect x="1572.12" y="402.2" width="1.15" height="83.6" fill="#3232b4" />
<rect x="1571.35" y="412.3" width="2.7" height="61.1" fill="#0808e0" />
<rect x="1575.92" y="356.3" width="1.15" height="67.2" fill="#dc7c4c" />
<rect x="1575.15" y="413.5" width="2.7" height="10" fill="#f04a10" />
<rect x="1579.72" y="244.3" width="1.15" height="180" fill="#3232b4" />
<rect x="1578.95" y="251" width="2.7" height="173.3" fill="#0808e0" />
<rect x="1583.52" y="163.3" width="1.15" height="137.2" fill="#3232b4" />
<rect x="1582.75" y="173.3" width="2.7" height="78.9" fill="#0808e0" />
<rect x="1587.32" y="164.2" width="1.15" height="155.5" fill="#dc7c4c" />
<rect x="1586.55" y="172.5" width="2.7" height="142.2" fill="#f04a10" />
<rect x="1591.12" y="226.3" width="1.15" height="97" fill="#3232b4" />
<rect x="1590.35" y="240" width="2.7" height="76.3" fill="#0808e0" />
<rect x="1594.92" y="189.7" width="1.15" height="83.3" fill="#3232b4" />
<rect x="1594.15" y="193.8" width="2.7" height="45" fill="#0808e0" />
<rect x="1598.72" y="185.8" width="1.15" height="121.4" fill="#dc7c4c" />
<rect x="1597.95" y="192" width="2.7" height="101.8" fill="#f04a10" />
<rect x="1602.52" y="253.8" width="1.15" height="65.9" fill="#dc7c4c" />
<rect x="1601.75" y="290" width="2.7" height="6.3" fill="#f04a10" />
<rect x="1606.32" y="251" width="1.15" height="68.7" fill="#3232b4" />
<rect x="1605.55" y="251" width="2.7" height="47" fill="#0808e0" />
<rect x="1610.12" y="130.8" width="1.15" height="142.2" fill="#3232b4" />
<rect x="1609.35" y="145.8" width="2.7" height="103.9" fill="#0808e0" />
<rect x="1613.92" y="85" width="1.15" height="117.2" fill="#dc7c4c" />
<rect x="1613.15" y="146.7" width="2.7" height="45.5" fill="#f04a10" />
<rect x="1617.72" y="127.5" width="1.15" height="93.5" fill="#3232b4" />
<rect x="1616.95" y="138.3" width="2.7" height="53.9" fill="#0808e0" />
<rect x="1621.52" y="100.8" width="1.15" height="61.7" fill="#dc7c4c" />
<rect x="1620.75" y="141.7" width="2.7" height="16.6" fill="#f04a10" />
<rect x="1625.32" y="43.7" width="1.15" height="121" fill="#3232b4" />
<rect x="1624.55" y="97.5" width="2.7" height="64.2" fill="#0808e0" />
<rect x="1629.12" y="89.2" width="1.15" height="71.6" fill="#dc7c4c" />
<rect x="1628.35" y="98.3" width="2.7" height="62.5" fill="#f04a10" />
<polyline fill="none" stroke="#1f771f" stroke-width="2.1" stroke-linejoin="round" points="1219,633.7 1237,636.2 1247,639.2 1262,641.2 1277,643.7 1294.5,646.2 1307,646.7 1314.5,645 1322,640 1332,632.5 1343.3,625.7 1360,617.3 1376.7,611.5 1393.3,606.5 1410,600.7 1426.7,591.5 1435,588.2 1443.3,585.2 1460,584 1476.7,583.7 1486.7,581.7 1503.3,575 1520,568.7 1536.7,565.3 1553.3,563.3 1570,562.2 1578.3,560.8 1586.7,557.5 1603.3,550.8 1615,544.2 1623.3,537.5 1629.7,533.3"/>
<rect x="1219.2" y="843.2" width="20.8" height="22" fill="#dc143c" />
<rect x="1240" y="843.2" width="68" height="22" fill="#66cdaa" />
<rect x="1308" y="843.2" width="68.4" height="22" fill="#0000ff" />
<rect x="1376.4" y="843.2" width="45.6" height="22" fill="#dc143c" />
<rect x="1422" y="843.2" width="68.5" height="22" fill="#66cdaa" />
<rect x="1490.5" y="843.2" width="68.5" height="22" fill="#0000ff" />
<rect x="1559" y="843.2" width="45.5" height="22" fill="#dc143c" />
<rect x="1604.5" y="843.2" width="68.5" height="22" fill="#66cdaa" />
<rect x="1673" y="843.2" width="68" height="22" fill="#0000ff" />
<rect x="1741" y="843.2" width="46" height="22" fill="#dc143c" />
<rect x="1787" y="843.2" width="29.4" height="22" fill="#66cdaa" />
<rect x="1218.5" y="839.8" width="599" height="3.2" fill="#3c3ce0" />
<rect x="0" y="0" width="1824" height="1.6" fill="#b4b4b4" />
<rect x="0" y="1.6" width="1824" height="2" fill="#8a8a8a" />
<rect x="0" y="3.6" width="1824" height="2.2" fill="#fbfbfb" />
<rect x="0" y="0" width="1.6" height="890" fill="#a8a8a8" />
<rect x="1.6" y="0" width="2.2" height="890" fill="#888888" />
<rect x="3.8" y="3.6" width="2" height="890" fill="#fbfbfb" />
<rect x="0" y="887.8" width="1824" height="2.2" fill="#f4f4f4" />
<rect x="1819.5" y="3.6" width="2.5" height="890" fill="#fbfbf3" />
<rect x="1822" y="0" width="2" height="890" fill="#e6e6e6" />
<rect x="5.8" y="5.8" width="597.5" height="1.4" fill="#40408c" />
<rect x="5.8" y="5.8" width="1.4" height="860.5" fill="#4444a6" />
<rect x="601.9" y="5.8" width="1.5" height="860.5" fill="#4444a6" />
<rect x="5.8" y="865.7" width="597.6" height="1.3" fill="#2e2ed8" />
<rect x="611.8" y="5.8" width="597.8" height="1.4" fill="#40408c" />
<rect x="611.8" y="5.8" width="1.4" height="860.5" fill="#4444a6" />
<rect x="1208.2" y="5.8" width="1.5" height="860.5" fill="#4444a6" />
<rect x="611.8" y="865.7" width="597.9" height="1.3" fill="#2e2ed8" />
<rect x="1217.8" y="5.8" width="600" height="1.4" fill="#40408c" />
<rect x="1217.8" y="5.8" width="1.4" height="860.5" fill="#4444a6" />
<rect x="1816.4" y="5.8" width="1.5" height="860.5" fill="#4444a6" />
<rect x="1217.8" y="865.7" width="600.1" height="1.3" fill="#2e2ed8" />
<rect x="7.2" y="7.2" width="594.7" height="0.9" fill="#fdfdf4" opacity="0.9"/>
<rect x="7.2" y="7.2" width="0.8" height="858.3" fill="#fdfdf4" opacity="0.7"/>
<rect x="613.2" y="7.2" width="595" height="0.9" fill="#fdfdf4" opacity="0.9"/>
<rect x="613.2" y="7.2" width="0.8" height="858.3" fill="#fdfdf4" opacity="0.7"/>
<rect x="1219.2" y="7.2" width="597.2" height="0.9" fill="#fdfdf4" opacity="0.9"/>
<rect x="1219.2" y="7.2" width="0.8" height="858.3" fill="#fdfdf4" opacity="0.7"/>
<rect x="603.4" y="3.6" width="8.4" height="884" fill="#f7f6f0" />
<rect x="608.4" y="2" width="1.6" height="884.5" fill="#8c8c8c" />
<rect x="1209.7" y="3.6" width="8.4" height="884" fill="#f7f6f0" />
<rect x="1214.7" y="2" width="1.6" height="884.5" fill="#8c8c8c" />
<rect x="611.8" y="5.8" width="1.4" height="860.5" fill="#4444a6" />
<rect x="1217.8" y="5.8" width="1.4" height="860.5" fill="#4444a6" />
<rect x="611.8" y="5.8" width="4" height="1.4" fill="#40408c" />
<rect x="1217.8" y="5.8" width="4" height="1.4" fill="#40408c" />
<rect x="603.4" y="867.1" width="4.8" height="21" fill="#f5f5dc" />
<rect x="610.2" y="867.1" width="1.7" height="21" fill="#f5f5dc" />
<rect x="1209.7" y="867.1" width="4.8" height="21" fill="#f5f5dc" />
<rect x="1216.5" y="867.1" width="1.7" height="21" fill="#f5f5dc" />
<rect x="600.9" y="556.5" width="2.9" height="100" fill="#0808e0" />
<rect x="1207.1" y="604" width="2.9" height="36.5" fill="#0808e0" />
<rect x="1815.3" y="218" width="2.9" height="44" fill="#0808e0" />
<rect x="611.4" y="559" width="4.2" height="71.2" fill="#0808e0" />
<rect x="6.4" y="866.3" width="1.2" height="3.4" fill="#2e2ed8" />
<text x="6.2" y="878.6" font-size="9.3" fill="#2626c4" textLength="47.63" lengthAdjust="spacingAndGlyphs" stroke="#2626c4" stroke-width="0.25">17 Jan 2023</text>
<rect x="67.2" y="866.3" width="1.2" height="3.4" fill="#2e2ed8" />
<text x="67" y="878.6" font-size="9.3" fill="#2626c4" textLength="47.63" lengthAdjust="spacingAndGlyphs" stroke="#2626c4" stroke-width="0.25">27 Jan 2023</text>
<rect x="128" y="866.3" width="1.2" height="3.4" fill="#2e2ed8" />
<text x="127.8" y="878.6" font-size="9.3" fill="#2626c4" textLength="43.3" lengthAdjust="spacingAndGlyphs" stroke="#2626c4" stroke-width="0.25">8 Feb 2023</text>
<rect x="188.8" y="866.3" width="1.2" height="3.4" fill="#2e2ed8" />
<text x="188.6" y="878.6" font-size="9.3" fill="#2626c4" textLength="47.63" lengthAdjust="spacingAndGlyphs" stroke="#2626c4" stroke-width="0.25">20 Feb 2023</text>
<rect x="249.6" y="866.3" width="1.2" height="3.4" fill="#2e2ed8" />
<text x="249.4" y="878.6" font-size="9.3" fill="#2626c4" textLength="43.3" lengthAdjust="spacingAndGlyphs" stroke="#2626c4" stroke-width="0.25">2 Mar 2023</text>
<rect x="310.4" y="866.3" width="1.2" height="3.4" fill="#2e2ed8" />
<text x="310.2" y="878.6" font-size="9.3" fill="#2626c4" textLength="47.63" lengthAdjust="spacingAndGlyphs" stroke="#2626c4" stroke-width="0.25">14 Mar 2023</text>
<rect x="371.2" y="866.3" width="1.2" height="3.4" fill="#2e2ed8" />
<text x="371" y="878.6" font-size="9.3" fill="#2626c4" textLength="47.63" lengthAdjust="spacingAndGlyphs" stroke="#2626c4" stroke-width="0.25">24 Mar 2023</text>
<rect x="432" y="866.3" width="1.2" height="3.4" fill="#2e2ed8" />
<text x="431.8" y="878.6" font-size="9.3" fill="#2626c4" textLength="43.3" lengthAdjust="spacingAndGlyphs" stroke="#2626c4" stroke-width="0.25">5 Apr 2023</text>
<rect x="492.8" y="866.3" width="1.2" height="3.4" fill="#2e2ed8" />
<text x="492.6" y="878.6" font-size="9.3" fill="#2626c4" textLength="47.63" lengthAdjust="spacingAndGlyphs" stroke="#2626c4" stroke-width="0.25">17 Apr 2023</text>
<rect x="553.6" y="866.3" width="1.2" height="3.4" fill="#2e2ed8" />
<text x="553.4" y="878.6" font-size="9.3" fill="#2626c4" textLength="47.63" lengthAdjust="spacingAndGlyphs" stroke="#2626c4" stroke-width="0.25">27 Apr 2023</text>
<rect x="612.4" y="866.3" width="1.2" height="3.4" fill="#2e2ed8" />
<text x="612.6" y="878.6" font-size="9.3" fill="#2626c4" textLength="46.97" lengthAdjust="spacingAndGlyphs" stroke="#2626c4" stroke-width="0.25">10 Apr 2023</text>
<rect x="673.2" y="866.3" width="1.2" height="3.4" fill="#2e2ed8" />
<text x="673.4" y="878.6" font-size="9.3" fill="#2626c4" textLength="51.24" lengthAdjust="spacingAndGlyphs" stroke="#2626c4" stroke-width="0.25">11 Apr 16:00</text>
<rect x="734" y="866.3" width="1.2" height="3.4" fill="#2e2ed8" />
<text x="734.2" y="878.6" font-size="9.3" fill="#2626c4" textLength="51.24" lengthAdjust="spacingAndGlyphs" stroke="#2626c4" stroke-width="0.25">13 Apr 00:00</text>
<rect x="794.8" y="866.3" width="1.2" height="3.4" fill="#2e2ed8" />
<text x="795" y="878.6" font-size="9.3" fill="#2626c4" textLength="51.24" lengthAdjust="spacingAndGlyphs" stroke="#2626c4" stroke-width="0.25">14 Apr 08:00</text>
<rect x="855.6" y="866.3" width="1.2" height="3.4" fill="#2e2ed8" />
<text x="855.8" y="878.6" font-size="9.3" fill="#2626c4" textLength="51.24" lengthAdjust="spacingAndGlyphs" stroke="#2626c4" stroke-width="0.25">17 Apr 16:00</text>
<rect x="916.4" y="866.3" width="1.2" height="3.4" fill="#2e2ed8" />
<text x="916.6" y="878.6" font-size="9.3" fill="#2626c4" textLength="51.24" lengthAdjust="spacingAndGlyphs" stroke="#2626c4" stroke-width="0.25">19 Apr 00:00</text>
<rect x="977.2" y="866.3" width="1.2" height="3.4" fill="#2e2ed8" />
<text x="977.4" y="878.6" font-size="9.3" fill="#2626c4" textLength="51.24" lengthAdjust="spacingAndGlyphs" stroke="#2626c4" stroke-width="0.25">20 Apr 08:00</text>
<rect x="1038" y="866.3" width="1.2" height="3.4" fill="#2e2ed8" />
<text x="1038.2" y="878.6" font-size="9.3" fill="#2626c4" textLength="51.24" lengthAdjust="spacingAndGlyphs" stroke="#2626c4" stroke-width="0.25">21 Apr 16:00</text>
<rect x="1098.8" y="866.3" width="1.2" height="3.4" fill="#2e2ed8" />
<text x="1099" y="878.6" font-size="9.3" fill="#2626c4" textLength="51.24" lengthAdjust="spacingAndGlyphs" stroke="#2626c4" stroke-width="0.25">25 Apr 00:00</text>
<rect x="1159.6" y="866.3" width="1.2" height="3.4" fill="#2e2ed8" />
<text x="1159.8" y="878.6" font-size="9.3" fill="#2626c4" textLength="51.24" lengthAdjust="spacingAndGlyphs" stroke="#2626c4" stroke-width="0.25">26 Apr 08:00</text>
<rect x="1218.9" y="866.3" width="1.2" height="3.4" fill="#2e2ed8" />
<text x="1218.5" y="878.6" font-size="9.3" fill="#2626c4" textLength="46.75" lengthAdjust="spacingAndGlyphs" stroke="#2626c4" stroke-width="0.25">20 Apr 2023</text>
<rect x="1279.65" y="866.3" width="1.2" height="3.4" fill="#2e2ed8" />
<text x="1279.25" y="878.6" font-size="9.3" fill="#2626c4" textLength="51" lengthAdjust="spacingAndGlyphs" stroke="#2626c4" stroke-width="0.25">20 Apr 20:00</text>
<rect x="1340.4" y="866.3" width="1.2" height="3.4" fill="#2e2ed8" />
<text x="1340" y="878.6" font-size="9.3" fill="#2626c4" textLength="51" lengthAdjust="spacingAndGlyphs" stroke="#2626c4" stroke-width="0.25">21 Apr 04:00</text>
<rect x="1401.15" y="866.3" width="1.2" height="3.4" fill="#2e2ed8" />
<text x="1400.75" y="878.6" font-size="9.3" fill="#2626c4" textLength="51" lengthAdjust="spacingAndGlyphs" stroke="#2626c4" stroke-width="0.25">21 Apr 12:00</text>
<rect x="1461.9" y="866.3" width="1.2" height="3.4" fill="#2e2ed8" />
<text x="1461.5" y="878.6" font-size="9.3" fill="#2626c4" textLength="51" lengthAdjust="spacingAndGlyphs" stroke="#2626c4" stroke-width="0.25">21 Apr 20:00</text>
<rect x="1522.65" y="866.3" width="1.2" height="3.4" fill="#2e2ed8" />
<text x="1522.25" y="878.6" font-size="9.3" fill="#2626c4" textLength="51" lengthAdjust="spacingAndGlyphs" stroke="#2626c4" stroke-width="0.25">24 Apr 04:00</text>
<rect x="1583.4" y="866.3" width="1.2" height="3.4" fill="#2e2ed8" />
<text x="1583" y="878.6" font-size="9.3" fill="#2626c4" textLength="51" lengthAdjust="spacingAndGlyphs" stroke="#2626c4" stroke-width="0.25">24 Apr 12:00</text>
<rect x="1644.15" y="866.3" width="1.2" height="3.4" fill="#2e2ed8" />
<text x="1643.75" y="878.6" font-size="9.3" fill="#2626c4" textLength="51" lengthAdjust="spacingAndGlyphs" stroke="#2626c4" stroke-width="0.25">24 Apr 20:00</text>
<rect x="1704.9" y="866.3" width="1.2" height="3.4" fill="#2e2ed8" />
<text x="1704.5" y="878.6" font-size="9.3" fill="#2626c4" textLength="51" lengthAdjust="spacingAndGlyphs" stroke="#2626c4" stroke-width="0.25">25 Apr 04:00</text>
<rect x="1765.65" y="866.3" width="1.2" height="3.4" fill="#2e2ed8" />
<text x="1765.25" y="878.6" font-size="9.3" fill="#2626c4" textLength="51" lengthAdjust="spacingAndGlyphs" stroke="#2626c4" stroke-width="0.25">25 Apr 12:00</text>
<path d="M9.5 12.3 h6.6 l-3.3 3.9 z" fill="#1010c0"/>
<text x="21.7" y="17.1" font-size="9" fill="#2828c0" stroke="#2828c0" stroke-width="0.3" textLength="60" lengthAdjust="spacingAndGlyphs">EURUSD,Daily</text>
<text x="8" y="50" font-size="33" fill="#5e5e5e" stroke="#5e5e5e" stroke-width="1.6" stroke-linejoin="round" textLength="154.5" lengthAdjust="spacingAndGlyphs">EURUSD, D1</text>
<path d="M615.5 12.3 h6.6 l-3.3 3.9 z" fill="#1010c0"/>
<text x="627.7" y="17.1" font-size="9" fill="#2828c0" stroke="#2828c0" stroke-width="0.3" textLength="51" lengthAdjust="spacingAndGlyphs">EURUSD,H4</text>
<text x="614" y="50" font-size="33" fill="#5e5e5e" stroke="#5e5e5e" stroke-width="1.6" stroke-linejoin="round" textLength="159.5" lengthAdjust="spacingAndGlyphs">EURUSD, H4</text>
<path d="M1221.5 12.3 h6.6 l-3.3 3.9 z" fill="#1010c0"/>
<text x="1233.7" y="17.1" font-size="9" fill="#2828c0" stroke="#2828c0" stroke-width="0.3" textLength="58" lengthAdjust="spacingAndGlyphs">EURUSD,M30</text>
<text x="1220" y="50" font-size="33" fill="#5e5e5e" stroke="#5e5e5e" stroke-width="1.6" stroke-linejoin="round" textLength="183" lengthAdjust="spacingAndGlyphs">EURUSD, M30</text>
<path d="M1590.3 415.2 L1618.4 446.9 L1602.9 446.9 L1602.9 484.6 L1578.2 484.6 L1578.2 446.9 L1562.2 446.9 Z" fill="#2bb466" stroke="#2bb466" stroke-width="1.2" stroke-linejoin="round"/>
<circle cx="1659.8" cy="77.5" r="31.2" fill="#2bb466"/>
<path d="M1644.6 76 L1651.9 87 L1675.4 68.6" fill="none" stroke="#ffffff" stroke-width="7.6" stroke-linecap="round" stroke-linejoin="round"/>
<defs><filter id="sh" x="-10%" y="-20%" width="125%" height="150%"><feGaussianBlur in="SourceAlpha" stdDeviation="1.6"/><feOffset dx="1.6" dy="2.2"/><feComponentTransfer><feFuncA type="linear" slope="0.55"/></feComponentTransfer><feMerge><feMergeNode/><feMergeNode in="SourceGraphic"/></feMerge></filter></defs>
<g filter="url(#sh)">
<g fill="#ffffff" stroke="#ffffff" stroke-width="8.4" stroke-linejoin="round" stroke-linecap="round">
<text x="1648" y="152" font-size="29.3" font-weight="bold" font-family="&quot;Liberation Sans&quot;, &quot;Noto Sans CJK JP&quot;, sans-serif">決</text>
<text x="1680.7" y="152" font-size="29.3" font-weight="bold" font-family="&quot;Liberation Sans&quot;, &quot;Noto Sans CJK JP&quot;, sans-serif">済</text>
<text x="1647.6" y="183.4" font-size="31" font-weight="bold" font-family="&quot;Liberation Sans&quot;, &quot;Noto Sans CJK JP&quot;, sans-serif">＋</text>
<text x="1680.6" y="183.9" font-size="33" font-weight="bold" textLength="123.6" lengthAdjust="spacingAndGlyphs">45.4pips</text>
</g></g>
<g fill="#f02c6a" stroke="#f02c6a" stroke-width="0.5">
<text x="1648" y="152" font-size="29.3" font-weight="bold" stroke-width="0.85" font-family="&quot;Liberation Sans&quot;, &quot;Noto Sans CJK JP&quot;, sans-serif">決</text>
<text x="1680.7" y="152" font-size="29.3" font-weight="bold" stroke-width="0.85" font-family="&quot;Liberation Sans&quot;, &quot;Noto Sans CJK JP&quot;, sans-serif">済</text>
<text x="1647.6" y="183.4" font-size="31" font-weight="bold" stroke-width="1.3" font-family="&quot;Liberation Sans&quot;, &quot;Noto Sans CJK JP&quot;, sans-serif">＋</text>
<text x="1680.6" y="183.9" font-size="33" font-weight="bold" textLength="123.6" lengthAdjust="spacingAndGlyphs">45.4pips</text>
</g>
<text x="41.2" y="853.4" font-size="9" font-weight="bold" fill="#ffffff" opacity="0.55">Number 7</text>
<rect x="6.9" y="838.2" width="13.9" height="13.6" fill="#b3272c" />
<rect x="6.9" y="838.2" width="13.9" height="13.6" fill="none" stroke="#8e1f24" stroke-width="1"/>
<rect x="10.3" y="844.1" width="6.8" height="1.9" fill="#ffe0e0" />
<rect x="6.9" y="853.6" width="14" height="12.6" fill="#bcbcbc" />
<circle cx="12.1" cy="860.2" r="3.4" fill="#080808"/>
<path d="M13.5 857.2 Q15.3 855.2 17.9 856.6" fill="none" stroke="#080808" stroke-width="1.1"/>
<rect x="22.1" y="853.4" width="12.6" height="12.8" fill="#2196f8" />
<rect x="27.1" y="858.6" width="2.7" height="2.7" fill="#f4f0ff" />
<text x="647.3" y="853.4" font-size="9" font-weight="bold" fill="#ffffff" opacity="0.55">Number 6</text>
<rect x="613" y="838.2" width="13.9" height="13.6" fill="#b3272c" />
<rect x="613" y="838.2" width="13.9" height="13.6" fill="none" stroke="#8e1f24" stroke-width="1"/>
<rect x="616.4" y="844.1" width="6.8" height="1.9" fill="#ffe0e0" />
<rect x="613" y="853.6" width="14" height="12.6" fill="#bcbcbc" />
<circle cx="618.2" cy="860.2" r="3.4" fill="#080808"/>
<path d="M619.6 857.2 Q621.4 855.2 624 856.6" fill="none" stroke="#080808" stroke-width="1.1"/>
<rect x="628.2" y="853.4" width="12.6" height="12.8" fill="#9a1cd8" />
<rect x="633.2" y="858.6" width="2.7" height="2.7" fill="#f4f0ff" />
<text x="1253.2" y="827.6" font-size="9" font-weight="bold" fill="#ffffff" opacity="0.55">Number 4</text>
<rect x="1218.9" y="812.4" width="13.9" height="13.6" fill="#b3272c" />
<rect x="1218.9" y="812.4" width="13.9" height="13.6" fill="none" stroke="#8e1f24" stroke-width="1"/>
<rect x="1222.3" y="818.3" width="6.8" height="1.9" fill="#ffe0e0" />
<rect x="1218.9" y="827.8" width="14" height="12.6" fill="#bcbcbc" />
<circle cx="1224.1" cy="834.4" r="3.4" fill="#080808"/>
<path d="M1225.5 831.4 Q1227.3 829.4 1229.9 830.8" fill="none" stroke="#080808" stroke-width="1.1"/>
<rect x="1234.1" y="827.6" width="12.6" height="12.8" fill="#bf3034" />
<rect x="1239.1" y="832.8" width="2.7" height="2.7" fill="#f4f0ff" />
<rect x="614.4" y="791.4" width="17" height="16.6" fill="#f3f3f3" />
<rect x="614.4" y="791.4" width="17" height="1" fill="#ffffff" />
<rect x="614.4" y="791.4" width="1" height="16.6" fill="#ffffff" />
<rect x="629.9" y="791.4" width="1.5" height="16.6" fill="#6e6e6e" />
<rect x="614.4" y="806.5" width="17" height="1.5" fill="#6e6e6e" />
<text x="622.1" y="803.3" font-size="11" text-anchor="middle" fill="#101010">1</text>
<rect x="614.4" y="811.3" width="17" height="16.4" fill="#f3f3f3" />
<rect x="614.4" y="811.3" width="17" height="1" fill="#ffffff" />
<rect x="614.4" y="811.3" width="1" height="16.4" fill="#ffffff" />
<rect x="629.9" y="811.3" width="1.5" height="16.4" fill="#6e6e6e" />
<rect x="614.4" y="826.2" width="17" height="1.5" fill="#6e6e6e" />
<text x="622.1" y="823.1" font-size="11" text-anchor="middle" fill="#101010">2</text>
<text x="651.2" y="864.2" font-size="10.6" font-weight="bold" fill="#16160a" text-anchor="start" textLength="11.8" lengthAdjust="spacingAndGlyphs">23</text>
<line x1="664.7" y1="865.4" x2="670.1" y2="855.8" stroke="#16160a" stroke-width="1.25"/>
<text x="671.5" y="864.2" font-size="10.6" font-weight="bold" fill="#16160a" text-anchor="start" textLength="11.8" lengthAdjust="spacingAndGlyphs">04</text>
<line x1="684.9" y1="865.4" x2="690.3" y2="855.8" stroke="#16160a" stroke-width="1.25"/>
<text x="691.7" y="864.2" font-size="10.6" font-weight="bold" fill="#16160a" text-anchor="start" textLength="11.4" lengthAdjust="spacingAndGlyphs">25</text>
<text x="705.6" y="864.2" font-size="10.4" font-weight="normal" fill="#16160a" text-anchor="start" >(</text>
<text x="720.2" y="864.2" font-size="10.4" font-weight="normal" fill="#16160a" text-anchor="start" >)</text>
<text x="708.8" y="864.1" font-size="11.2" font-weight="bold" fill="#16160a" text-anchor="start" font-family="&quot;Liberation Sans&quot;, &quot;Noto Sans CJK JP&quot;, sans-serif">火</text>
<text x="725.7" y="864.2" font-size="10.6" font-weight="bold" fill="#16160a" text-anchor="start" textLength="29.3" lengthAdjust="spacingAndGlyphs">02:00</text>
<text x="1257.5" y="839.2" font-size="10.6" font-weight="bold" fill="#16160a" text-anchor="start" textLength="11.8" lengthAdjust="spacingAndGlyphs">23</text>
<line x1="1271" y1="840.4" x2="1276.4" y2="830.8" stroke="#16160a" stroke-width="1.25"/>
<text x="1277.8" y="839.2" font-size="10.6" font-weight="bold" fill="#16160a" text-anchor="start" textLength="11.8" lengthAdjust="spacingAndGlyphs">04</text>
<line x1="1291.2" y1="840.4" x2="1296.6" y2="830.8" stroke="#16160a" stroke-width="1.25"/>
<text x="1298" y="839.2" font-size="10.6" font-weight="bold" fill="#16160a" text-anchor="start" textLength="11.4" lengthAdjust="spacingAndGlyphs">25</text>
<text x="1311.9" y="839.2" font-size="10.4" font-weight="normal" fill="#16160a" text-anchor="start" >(</text>
<text x="1326.5" y="839.2" font-size="10.4" font-weight="normal" fill="#16160a" text-anchor="start" >)</text>
<text x="1315.1" y="839.1" font-size="11.2" font-weight="bold" fill="#16160a" text-anchor="start" font-family="&quot;Liberation Sans&quot;, &quot;Noto Sans CJK JP&quot;, sans-serif">火</text>
<text x="1332" y="839.2" font-size="10.6" font-weight="bold" fill="#16160a" text-anchor="start" textLength="29.3" lengthAdjust="spacingAndGlyphs">00:30</text>
</svg>
</body></html>
